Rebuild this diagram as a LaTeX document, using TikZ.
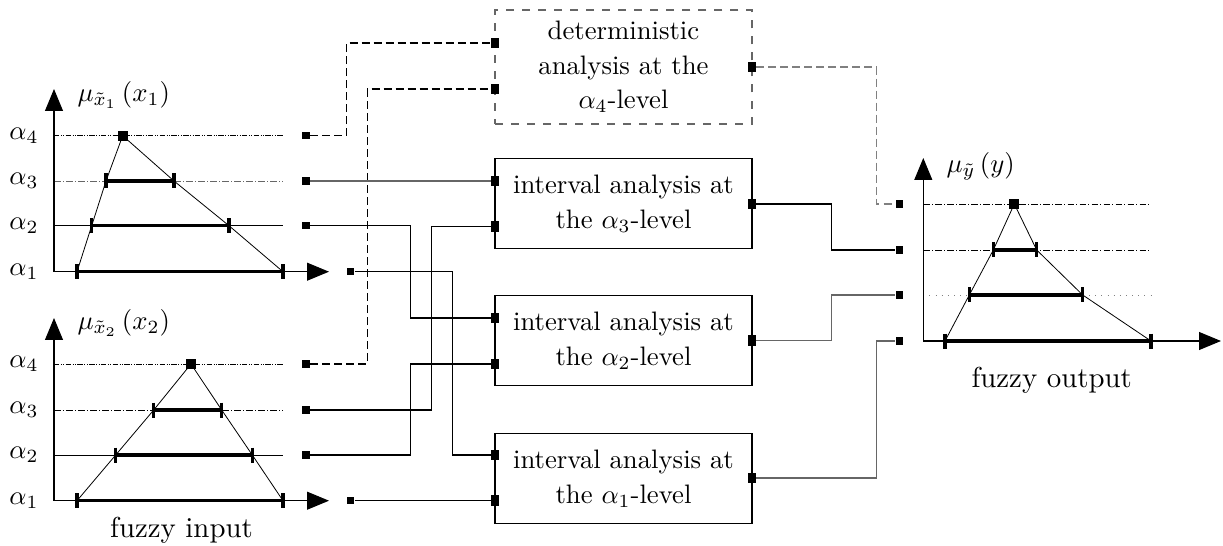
\documentclass[tikz,border=0pt]{standalone}
\usetikzlibrary{arrows.meta}
\begin{document}
\begin{tikzpicture}[x=0.3745pt,y=-0.3745pt,
  port/.style={fill=black, draw=none, inner sep=0pt, minimum size=2.7pt},
  bport/.style={fill=black, draw=none, inner sep=0pt, minimum width=2.7pt, minimum height=3.9pt},
  peak/.style={fill=black, draw=none, inner sep=0pt, minimum size=3.8pt},
  ival/.style={line width=1.25pt},
  tickmark/.style={line width=1.25pt},
  axis/.style={line width=0.4pt, -{Triangle[length=8.2pt,width=6.7pt]}},
  box/.style={draw, line width=0.45pt, minimum width=96.2pt, minimum height=34pt, align=center, font=\fontsize{10}{13}\selectfont, inner sep=0pt},
  wire/.style={line width=0.4pt},
  dwire/.style={wire, dash pattern=on 3pt off 1.5pt},
  lvl/.style={line width=0.3pt},
  ddot/.style={lvl, dash pattern=on 2pt off 0.6pt on 0.3pt off 0.6pt on 0.3pt off 0.6pt},
  dd/.style={lvl, dash pattern=on 2.5pt off 0.8pt on 0.4pt off 0.8pt},
  lab/.style={inner sep=0pt, font=\fontsize{10.3}{12}\selectfont},
  captext/.style={inner sep=0pt, font=\fontsize{10.8}{13}\selectfont}]
\useasboundingbox (0,0) rectangle (1223,546);

% ---------- fuzzy input 1 ----------
\draw[ddot] (54,135.7) -- (283,135.7);
\draw[dd, black!60] (54,181) -- (283,181);
\draw[lvl] (54,225.7) -- (283,225.7);
\draw[axis] (54,271.7) -- (54,89);
\draw[axis] (54,271.7) -- (329,271.7);
\draw[lvl] (77,271.7) -- (91.7,225.7) -- (106,181) -- (122.7,135.7) -- (174,181) -- (229,225.7) -- (283,271.7);
\draw[ival] (106,181) -- (174,181);
\draw[ival] (91.7,225.7) -- (229,225.7);
\draw[ival] (77,271.7) -- (283,271.7);
\foreach \x/\y in {106/181,174/181,91.7/225.7,229/225.7,77/271.7,283/271.7}
  \draw[tickmark] (\x,\y-7.5) -- (\x,\y+7.5);
\node[peak] (pk1) at (122.7,135.7) {};
\node[lab] (l1a4) at (24,135.7) {$\alpha_4$};
\node[lab] (l1a3) at (24,181) {$\alpha_3$};
\node[lab] (l1a2) at (24,225.7) {$\alpha_2$};
\node[lab] (l1a1) at (24,271.7) {$\alpha_1$};
\node[lab, anchor=west] (mu1) at (77,95) {$\mu_{\tilde{x}_1}\,(x_1)$};

% ---------- fuzzy input 2 ----------
\draw[ddot] (54,364) -- (283,364);
\draw[dd] (54,410) -- (283,410);
\draw[lvl] (54,455) -- (283,455);
\draw[axis] (54,500.7) -- (54,318);
\draw[axis] (54,500.7) -- (329,500.7);
\draw[lvl] (77,500.7) -- (115.7,455) -- (153.7,410) -- (191,364) -- (221.7,410) -- (252.3,455) -- (283,500.7);
\draw[ival] (153.7,410) -- (221.7,410);
\draw[ival] (115.7,455) -- (252.3,455);
\draw[ival] (77,500.7) -- (283,500.7);
\foreach \x/\y in {153.7/410,221.7/410,115.7/455,252.3/455,77/500.7,283/500.7}
  \draw[tickmark] (\x,\y-7.5) -- (\x,\y+7.5);
\node[peak] (pk2) at (191,364) {};
\node[lab] (l2a4) at (24,364) {$\alpha_4$};
\node[lab] (l2a3) at (24,410) {$\alpha_3$};
\node[lab] (l2a2) at (24,455) {$\alpha_2$};
\node[lab] (l2a1) at (24,500.7) {$\alpha_1$};
\node[lab, anchor=west] (mu2) at (77,323) {$\mu_{\tilde{x}_2}\,(x_2)$};
\node[captext] (fin) at (181.5,530) {fuzzy input};

% ---------- input ports ----------
\node[port] (p1a4) at (306,135.7) {};
\node[port] (p1a3) at (306,181) {};
\node[port] (p1a2) at (306,225.7) {};
\node[port] (p1a1) at (350.7,271.7) {};
\node[port] (p2a4) at (306,364) {};
\node[port] (p2a3) at (306,410) {};
\node[port] (p2a2) at (306,455) {};
\node[port] (p2a1) at (350.7,500.7) {};

% ---------- analysis boxes ----------
\node[box, draw=black!60, dashed, minimum height=42.7pt] (det) at (623.5,67) {deterministic\\analysis at the\\$\alpha_4$-level};
\node[box] (b3) at (623.5,203.5) {interval analysis at\\the $\alpha_3$-level};
\node[box] (b2) at (623.5,340.5) {interval analysis at\\the $\alpha_2$-level};
\node[box] (b1) at (623.5,478.5) {interval analysis at\\the $\alpha_1$-level};

\node[bport] (d1) at (495,43) {};
\node[bport] (d2) at (495,89) {};
\node[bport] (dout) at (752,67) {};
\node[bport] (b3i1) at (495,181) {};
\node[bport] (b3i2) at (495,226.7) {};
\node[bport] (b3o) at (752,204) {};
\node[bport] (b2i1) at (495,318) {};
\node[bport] (b2i2) at (495,364) {};
\node[bport] (b2o) at (752,340.7) {};
\node[bport] (b1i1) at (495,455) {};
\node[bport] (b1i2) at (495,500.7) {};
\node[bport] (b1o) at (752,478) {};

% ---------- output ports ----------
\node[port] (o4) at (899.3,204) {};
\node[port] (o3) at (899.3,250) {};
\node[port] (o2) at (899.3,295) {};
\node[port] (o1) at (899.3,341) {};

% ---------- wires ----------
\draw[dwire] (p1a4) -| (346.7,43) -- (d1);
\draw[dwire] (p2a4) -| (367.3,89) -- (d2);
\draw[wire, black!60] (p1a3) -- (b3i1);
\draw[wire] (p2a3) -| (431.7,226.7) -- (b3i2);
\draw[wire] (p1a2) -| (410.7,318) -- (b2i1);
\draw[wire] (p2a2) -| (410.7,364) -- (b2i2);
\draw[wire] (p1a1) -| (452.7,455) -- (b1i1);
\draw[wire] (p2a1) -- (b1i2);
\draw[dwire, black!50] (dout) -| (876.7,204) -- (o4);
\draw[wire] (b3o) -| (831.7,250) -- (o3);
\draw[wire, black!60] (b2o) -| (831.7,295) -- (o2);
\draw[wire, black!60] (b1o) -| (876.7,341) -- (o1);

% ---------- fuzzy output ----------
\draw[dd] (923.3,204) -- (1151,204);
\draw[dd] (923.3,250) -- (1151,250);
\draw[lvl, black!50, dotted] (923.3,295) -- (1151,295);
\draw[axis] (923.3,341) -- (923.3,158);
\draw[axis] (923.3,341) -- (1221,341);
\draw[lvl] (945,341) -- (969.3,295) -- (993.3,250) -- (1014.3,204) -- (1036.7,250) -- (1082.7,295) -- (1151,341);
\draw[ival] (993.3,250) -- (1036.7,250);
\draw[ival] (969.3,295) -- (1082.7,295);
\draw[ival] (945,341) -- (1151,341);
\foreach \x/\y in {993.3/250,1036.7/250,969.3/295,1082.7/295,945/341,1151/341}
  \draw[tickmark] (\x,\y-7.5) -- (\x,\y+7.5);
\node[peak] (pk3) at (1014.3,204) {};
\node[lab, anchor=west] (mu3) at (946,166.7) {$\mu_{\tilde{y}}\,(y)$};
\node[captext] (fout) at (1051.7,380) {fuzzy output};
\end{tikzpicture}
\end{document}
